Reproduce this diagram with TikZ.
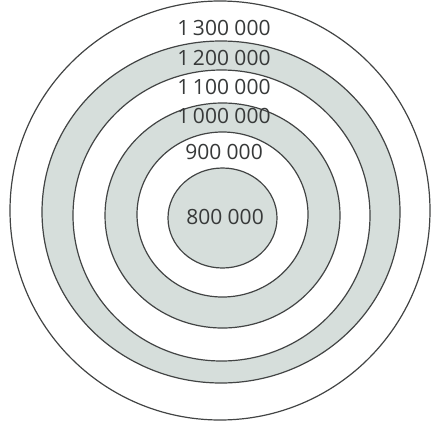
\documentclass[tikz,border=0pt]{standalone}
\usepackage{fontspec}
\setmainfont{Open Sans}
\usepackage{tikz}
\usetikzlibrary{shapes.geometric}
\definecolor{RingGray}{RGB}{214,222,219}
\definecolor{LineGray}{RGB}{66,68,68}
\definecolor{TextGray}{RGB}{55,57,57}
\newcommand{\grp}{\hspace{0.26em}}

\begin{document}
\begin{tikzpicture}[
    x=1pt, y=-1pt,
    ring/.style={ellipse, draw=LineGray, line width=1.2pt, inner sep=0pt, outer sep=0pt},
    shaded/.style={ring, fill=RingGray},
    plain/.style={ring, fill=white},
    value/.style={font=\fontsize{21}{21}\selectfont, text=TextGray, inner sep=0pt}
]
    \useasboundingbox (0,0) rectangle (433,423);

    % rings, outermost first
    \node[plain, minimum width=420pt, minimum height=419pt] (r1300) at (220,210.5) {};
    \node[shaded, minimum width=358pt, minimum height=342pt] (r1200) at (221,212) {};
    \node[plain, minimum width=297pt, minimum height=291pt] (r1100) at (221.5,215.5) {};
    \node[shaded, minimum width=235pt, minimum height=225pt] (r1000) at (222.5,215.5) {};
    \node[plain, minimum width=171pt, minimum height=165pt] (r900) at (222.5,214.5) {};
    \node[shaded, minimum width=109pt, minimum height=100pt] (r800) at (222.5,218) {};

    % labels
    \node[value] (l1300) at (224,27.5) {1\,300\grp 000};
    \node[value] (l1200) at (224,57.5) {1\,200\grp 000};
    \node[value] (l1100) at (224,86.5) {1\,100\grp 000};
    \node[value] (l1000) at (224,116) {1\,000\grp 000};
    \node[value] (l900) at (224,151.5) {900\grp 000};
    \node[value] (l800) at (225,217) {800\grp 000};
\end{tikzpicture}
\end{document}
